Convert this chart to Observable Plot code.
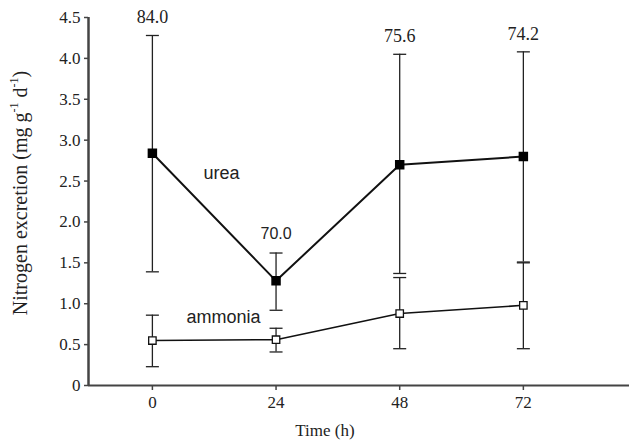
<!DOCTYPE html>
<html>
<head>
<meta charset="utf-8">
<script src="https://cdn.jsdelivr.net/npm/d3@7"></script>
<script src="https://cdn.jsdelivr.net/npm/@observablehq/plot@0.6"></script>
<style>
  html, body { margin: 0; padding: 0; background: #fff; }
  #chart { width: 629px; height: 442px; }
  #chart svg text { font-family: "Liberation Serif", "Times New Roman", serif; }
  #chart svg .sans text, #chart svg text.sans { font-family: "Liberation Sans", Arial, sans-serif; }
</style>
</head>
<body>
<div id="chart"></div>
<script>
// ---- data ----
const times = [0, 24, 48, 72];
const ureaMean = [2.84, 1.28, 2.70, 2.80];
const ureaLow = [1.39, 0.92, 1.37, 1.51];
const ureaHigh = [4.28, 1.62, 4.05, 4.08];
const ammoniaMean = [0.55, 0.56, 0.88, 0.98];
const ammoniaLow = [0.23, 0.41, 0.45, 0.45];
const ammoniaHigh = [0.86, 0.70, 1.32, 1.50];
const nLabels = ["84.0", "70.0", "75.6", "74.2"];
const yTicks = [0, 0.5, 1, 1.5, 2, 2.5, 3, 3.5, 4, 4.5];
const seriesNames = ["urea", "ammonia"];
const seriesLabelPos = [{x: 13.4, y: 2.6}, {x: 13.8, y: 0.83}];

const urea = times.map((t, i) => ({t, m: ureaMean[i], lo: ureaLow[i], hi: ureaHigh[i], n: nLabels[i]}));
const ammonia = times.map((t, i) => ({t, m: ammoniaMean[i], lo: ammoniaLow[i], hi: ammoniaHigh[i]}));
const seriesLabels = seriesNames.map((s, i) => ({s, ...seriesLabelPos[i]}));

const capSymbol = {draw(ctx) { ctx.moveTo(-6.5, 0); ctx.lineTo(6.5, 0); }};
const xDomain = [-12.4, 92.6];
const fmt = d => d === 0 ? "0" : d.toFixed(1);

const caps = (data) => [
  Plot.ruleX(data, {x: "t", y1: "lo", y2: "hi", stroke: "#222", strokeWidth: 1.3}),
  Plot.dot(data, {x: "t", y: "lo", symbol: capSymbol, stroke: "#222", strokeWidth: 1.3, fill: "none"}),
  Plot.dot(data, {x: "t", y: "hi", symbol: capSymbol, stroke: "#222", strokeWidth: 1.3, fill: "none"})
];

const plot = Plot.plot({
  width: 629,
  height: 442,
  marginLeft: 88,
  marginRight: 0,
  marginTop: 17,
  marginBottom: 57,
  style: {fontSize: "17px", color: "#222", background: "#fff"},
  x: {domain: xDomain, label: null},
  y: {domain: [0, 4.5], label: null},
  marks: [
    Plot.axisX({ticks: times, tickSize: 5, tickPadding: 5, fontSize: 17, stroke: "#444", strokeWidth: 1.5, label: null}),
    Plot.axisY({ticks: yTicks, tickSize: 4, tickPadding: 4, fontSize: 17, stroke: "#444", strokeWidth: 1.5, tickFormat: fmt, label: null}),
    Plot.ruleY([0], {stroke: "#444", strokeWidth: 2}),
    Plot.ruleX([xDomain[0]], {stroke: "#444", strokeWidth: 2.5}),
    ...caps(urea),
    ...caps(ammonia),
    Plot.line(urea, {x: "t", y: "m", stroke: "#111", strokeWidth: 2}),
    Plot.line(ammonia, {x: "t", y: "m", stroke: "#111", strokeWidth: 1.5}),
    Plot.dot(urea, {x: "t", y: "m", symbol: "square", r: 4.5, fill: "#000", stroke: "#000"}),
    Plot.dot(ammonia, {x: "t", y: "m", symbol: "square", r: 4.2, fill: "#fff", stroke: "#111", strokeWidth: 1.3}),
    Plot.text(urea.filter(d => d.t !== 24), {x: "t", y: "hi", text: "n", dy: -18, fontSize: 18, fill: "#222"}),
    Plot.text(urea.filter(d => d.t === 24), {x: "t", y: "hi", text: "n", dy: -19, fontSize: 16, fill: "#222", className: "sans"}),
    Plot.text(seriesLabels, {x: "x", y: "y", text: "s", fontSize: 18, fill: "#222", className: "sans"})
  ]
});

document.getElementById("chart").appendChild(plot);

// axis titles (y title with superscripts)
const svg = d3.select(plot);
svg.append("text")
  .attr("x", 325).attr("y", 432)
  .attr("text-anchor", "middle").attr("dominant-baseline", "middle")
  .style("font-size", "17px").attr("fill", "#222")
  .text("Time (h)");
const yt = svg.append("text")
  .attr("transform", "translate(22,193) rotate(-90)")
  .attr("text-anchor", "middle").attr("dominant-baseline", "middle")
  .style("font-size", "20px").attr("fill", "#222");
yt.append("tspan").text("Nitrogen excretion (mg g");
yt.append("tspan").attr("baseline-shift", "super").style("font-size", "12px").text("-1");
yt.append("tspan").text(" d");
yt.append("tspan").attr("baseline-shift", "super").style("font-size", "12px").text("-1");
yt.append("tspan").text(")");
</script>
</body>
</html>
